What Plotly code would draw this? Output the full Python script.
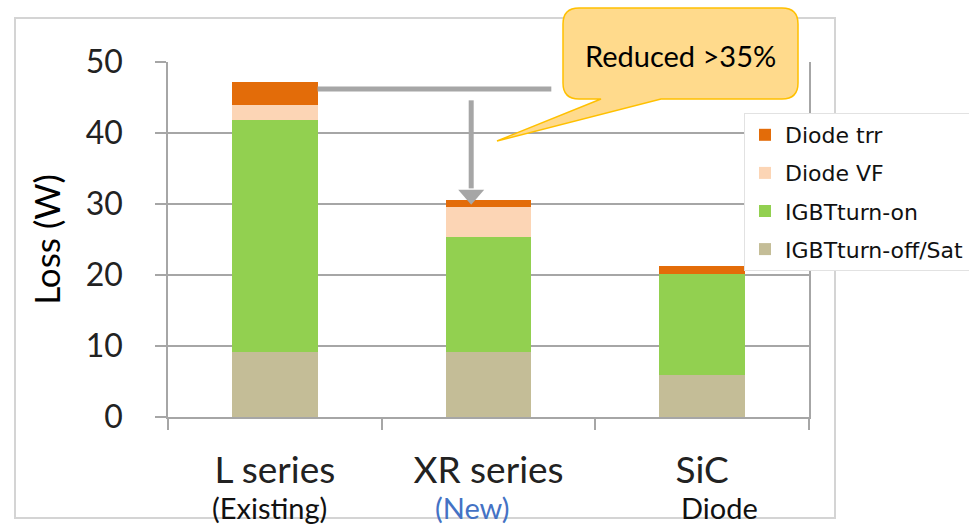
import plotly.graph_objects as go

# ---- data ----
categories = ["L series", "XR series", "SiC"]
second_line = ["(Existing)", "(New)", "Diode"]
off_sat = [9.1, 9.1, 5.9]
turn_on = [32.8, 16.3, 14.3]
diode_vf = [2.1, 4.2, 0.0]
diode_trr = [3.2, 0.9, 1.0]
y_ticks = [0, 10, 20, 30, 40, 50]
series_names = ["IGBTturn-off/Sat", "IGBTturn-on", "Diode VF", "Diode trr"]
callout_text = "Reduced >35%"
axis_title = "Loss (W)"

# ---- styles ----
colors = ["#C4BD97", "#92D050", "#FCD5B5", "#E36C09"]
second_colors = ["#111111", "#4472C4", "#111111"]
second_shift = [-5, -16, 17]
GRID = "#A6A6A6"
W, H = 969, 525
ML, MR, MT, MB = 168, 160, 62, 108
PW = W - ML - MR
PH = H - MT - MB


def px(x):
    return (x - ML) / PW


def py(y):
    return (H - MB - y) / PH


fig = go.Figure()
all_series = [off_sat, turn_on, diode_vf, diode_trr]
for i, (name, vals) in enumerate(zip(series_names, all_series)):
    fig.add_trace(go.Bar(
        x=categories, y=vals, name=name,
        marker=dict(color=colors[i], line=dict(width=0)),
        legendgroup=name, legendrank=4 - i,
    ))

shapes = []
# outer frame
shapes.append(dict(type="rect", xref="paper", yref="paper",
                   x0=px(15), x1=px(835), y0=py(518), y1=py(18),
                   line=dict(color="#D4D4D4", width=2), layer="below"))


def cx(c):
    return (c + 0.5) / len(categories)


def vy(v):
    return v / y_ticks[-1]


# horizontal grey reference line from L series bar
shapes.append(dict(type="line", xref="paper", yref="paper",
                   x0=cx(0.2), x1=cx(1.294), y0=vy(46.2), y1=vy(46.2),
                   line=dict(color=GRID, width=5), layer="above"))
# vertical arrow shaft
ax_c = 0.919
shapes.append(dict(type="line", xref="paper", yref="paper",
                   x0=cx(ax_c), x1=cx(ax_c), y0=vy(44.6), y1=vy(32.2),
                   line=dict(color=GRID, width=5), layer="above"))
# arrow head
hw = 13 / PW
tip_x, tip_y = cx(ax_c), vy(29.9)
base_y = vy(32.0)
shapes.append(dict(type="path", xref="paper", yref="paper",
                   path=f"M{tip_x - hw},{base_y} L{tip_x + hw},{base_y} L{tip_x},{tip_y} Z",
                   fillcolor=GRID, line=dict(width=0), layer="above"))

# callout bubble
x0, x1, y0, y1, r = 563, 798, 8, 99, 16


def P(x, y):
    return f"{px(x)},{py(y)}"


path = (f"M{P(x0 + r, y0)} L{P(x1 - r, y0)} Q{P(x1, y0)} {P(x1, y0 + r)} "
        f"L{P(x1, y1 - r)} Q{P(x1, y1)} {P(x1 - r, y1)} "
        f"L{P(661, y1)} L{P(497, 141)} L{P(601, y1)} "
        f"L{P(x0 + r, y1)} Q{P(x0, y1)} {P(x0, y1 - r)} "
        f"L{P(x0, y0 + r)} Q{P(x0, y0)} {P(x0 + r, y0)} Z")
shapes.append(dict(type="path", xref="paper", yref="paper", path=path,
                   fillcolor="#FFDA8C", line=dict(color="#FFC000", width=1.5),
                   layer="above"))

annotations = [dict(text=callout_text, xref="paper", yref="paper",
                    x=px(680), y=py(55), xanchor="center", yanchor="middle",
                    showarrow=False,
                    font=dict(family="Lato", size=29, color="#000000"))]
for i, t in enumerate(second_line):
    annotations.append(dict(text=t, xref="x", yref="paper", x=categories[i],
                            y=py(507), xanchor="center", yanchor="middle",
                            showarrow=False, xshift=second_shift[i],
                            font=dict(family="Lato", size=29, color=second_colors[i])))

fig.update_layout(
    width=W, height=H,
    margin=dict(l=ML, r=MR, t=MT, b=MB, autoexpand=False),
    paper_bgcolor="white", plot_bgcolor="white",
    barmode="stack", bargap=0.6,
    shapes=shapes, annotations=annotations,
    showlegend=True,
    legend=dict(x=px(744), y=py(113), xanchor="left", yanchor="top",
                bgcolor="white", bordercolor="#E2E2E2", borderwidth=1,
                font=dict(family="DejaVu Sans", size=22, color="#111111"),
                tracegroupgap=6.5, itemwidth=30),
    xaxis=dict(type="category", showline=True, linecolor=GRID, linewidth=1.5,
               ticks="outside", tickson="boundaries", ticklen=11,
               tickcolor=GRID, tickwidth=1.5, showgrid=False,
               tickfont=dict(family="Lato", size=37, color="#222222"),
               ticklabelstandoff=20, automargin=False),
    yaxis=dict(range=[0, 50], tickvals=y_ticks, showgrid=True, gridcolor=GRID,
               gridwidth=1.5, showline=True, linecolor=GRID, linewidth=1.5,
               mirror=True, zeroline=False, ticks="outside", ticklen=11,
               tickcolor=GRID, tickwidth=1.5,
               tickfont=dict(family="Lato", size=32, color="#222222"),
               ticklabelstandoff=26, automargin=False,
               title=dict(text=axis_title, standoff=14,
                          font=dict(family="Lato", size=35, color="#000000"))),
)

fig.write_html("out.html", config={"displayModeBar": False},
               post_script="document.body.style.margin='0';document.body.style.overflow='hidden';")
